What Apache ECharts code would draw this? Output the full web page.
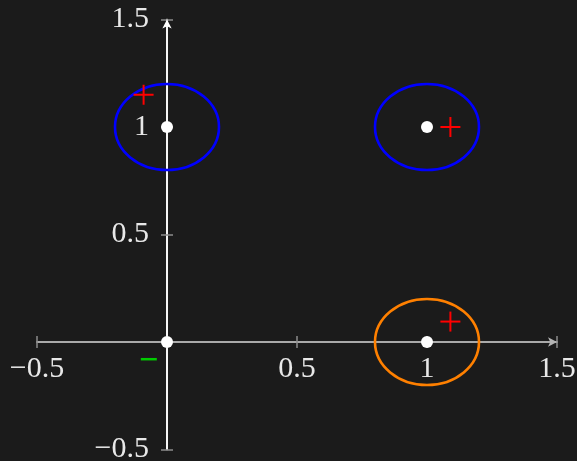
<!DOCTYPE html>
<html>
<head>
<meta charset="utf-8">
<script src="https://cdn.jsdelivr.net/npm/echarts@6/dist/echarts.min.js"></script>
<style>
  html, body { margin: 0; padding: 0; background: #1b1b1b; }
  #chart { width: 577px; height: 461px; }
</style>
</head>
<body>
<div id="chart"></div>
<script>
// Axis ranges and tick labels
const axisMin = -0.5;
const axisMax = 1.5;
const tickStep = 0.5;
const xTickValues = [-0.5, 0, 0.5, 1, 1.5];
const xTickLabels = ['\u22120.5', '', '0.5', '1', '1.5'];
const yTickValues = [-0.5, 0, 0.5, 1, 1.5];
const yTickLabels = ['\u22120.5', '', '0.5', '1', '1.5'];

// Grid points (white dots)
const gridPoints = [[0, 0], [0, 1], [1, 0], [1, 1]];

// Circles: [cx, cy, radius]
const blueCircles = [[0, 1, 0.2], [1, 1, 0.2]];
const orangeCircles = [[1, 0, 0.2]];

// Sample markers
const plusPoints = [[-0.09, 1.15], [1.09, 1.0], [1.09, 0.095]];
const minusPoints = [[-0.07, -0.08]];

const labelFont = { fontFamily: 'Liberation Serif', fontSize: 30, color: '#e8e8e8' };
const tickStyle = { show: true, inside: false, length: 6, lineStyle: { color: '#8c8c8c', width: 1.5 } };

function labelFor(values, labels) {
  return function (v) {
    for (let i = 0; i < values.length; i++) {
      if (Math.abs(values[i] - v) < 1e-9) return labels[i];
    }
    return '';
  };
}

function circleRenderer(color) {
  return function (params, api) {
    const c = api.coord([api.value(0), api.value(1)]);
    const s = api.size([api.value(2), api.value(2)]);
    const rx = s[0], ry = s[1];
    return {
      type: 'path',
      shape: {
        pathData: 'M ' + (c[0] - rx) + ' ' + c[1] +
          ' A ' + rx + ' ' + ry + ' 0 1 0 ' + (c[0] + rx) + ' ' + c[1] +
          ' A ' + rx + ' ' + ry + ' 0 1 0 ' + (c[0] - rx) + ' ' + c[1] + ' Z'
      },
      style: { fill: 'none', stroke: color, lineWidth: 2.6 }
    };
  };
}

function plusRenderer(params, api) {
  const c = api.coord([api.value(0), api.value(1)]);
  const h = 10;
  return {
    type: 'group',
    children: [
      { type: 'line', shape: { x1: c[0] - h, y1: c[1], x2: c[0] + h, y2: c[1] },
        style: { stroke: '#ff0000', lineWidth: 2 } },
      { type: 'line', shape: { x1: c[0], y1: c[1] - h, x2: c[0], y2: c[1] + h },
        style: { stroke: '#ff0000', lineWidth: 2 } }
    ]
  };
}

function minusRenderer(params, api) {
  const c = api.coord([api.value(0), api.value(1)]);
  const h = 8;
  return {
    type: 'line',
    shape: { x1: c[0] - h, y1: c[1], x2: c[0] + h, y2: c[1] },
    style: { stroke: '#00cc00', lineWidth: 2.5 }
  };
}

const baseAxis = {
  type: 'value',
  min: axisMin,
  max: axisMax,
  interval: tickStep,
  splitLine: { show: false }
};

function buildOption(xOffset, yOffset) {
  return {
    backgroundColor: '#1b1b1b',
    animation: false,
    grid: { left: 37, right: 20, top: 19.5, bottom: 11.5, containLabel: false, outerBoundsMode: 'none' },
    xAxis: [
      // labelled axis, shifted onto the y = 0 line
      Object.assign({}, baseAxis, {
        position: 'bottom',
        offset: xOffset,
        axisLine: {
          onZero: false,
          symbol: ['none', 'arrow'],
          symbolSize: [7, 9],
          symbolOffset: [0, 0],
          lineStyle: { color: '#b4b4b4', width: 1.6 }
        },
        axisTick: tickStyle,
        axisLabel: Object.assign({
          margin: 12, showMinLabel: true, showMaxLabel: true, hideOverlap: false,
          formatter: labelFor(xTickValues, xTickLabels)
        }, labelFont)
      }),
      // mirror axis: ticks on the other side of the line
      Object.assign({}, baseAxis, {
        position: 'top',
        axisLine: { onZero: true, lineStyle: { color: '#b4b4b4', width: 1.6 } },
        axisTick: tickStyle,
        axisLabel: { show: false }
      })
    ],
    yAxis: [
      Object.assign({}, baseAxis, {
        position: 'left',
        offset: yOffset,
        axisLine: {
          onZero: false,
          symbol: ['none', 'arrow'],
          symbolSize: [7, 9],
          symbolOffset: [0, 0],
          lineStyle: { color: '#ffffff', width: 1.6 }
        },
        axisTick: tickStyle,
        axisLabel: Object.assign({
          margin: 18, showMinLabel: true, showMaxLabel: true, hideOverlap: false,
          formatter: labelFor(yTickValues, yTickLabels)
        }, labelFont)
      }),
      Object.assign({}, baseAxis, {
        position: 'right',
        axisLine: { onZero: true, lineStyle: { color: '#ffffff', width: 1.6 } },
        axisTick: tickStyle,
        axisLabel: { show: false }
      })
    ],
    series: [
      { type: 'custom', renderItem: circleRenderer('#0000ff'), data: blueCircles, z: 3 },
      { type: 'custom', renderItem: circleRenderer('#ff8000'), data: orangeCircles, z: 3 },
      {
        type: 'scatter', data: gridPoints, symbol: 'circle', symbolSize: 12,
        itemStyle: { color: '#ffffff', opacity: 1 }, z: 4
      },
      { type: 'custom', renderItem: plusRenderer, data: plusPoints, z: 5 },
      { type: 'custom', renderItem: minusRenderer, data: minusPoints, z: 5 }
    ]
  };
}

const chart = echarts.init(document.getElementById('chart'));
chart.setOption(buildOption(0, 0));
// Move the labelled axes onto the zero lines of the other axis
const zeroPx = chart.convertToPixel({ gridIndex: 0 }, [0, 0]);
const minPx = chart.convertToPixel({ gridIndex: 0 }, [axisMin, axisMin]);
chart.setOption(buildOption(zeroPx[1] - minPx[1], minPx[0] - zeroPx[0]));
</script>
</body>
</html>
